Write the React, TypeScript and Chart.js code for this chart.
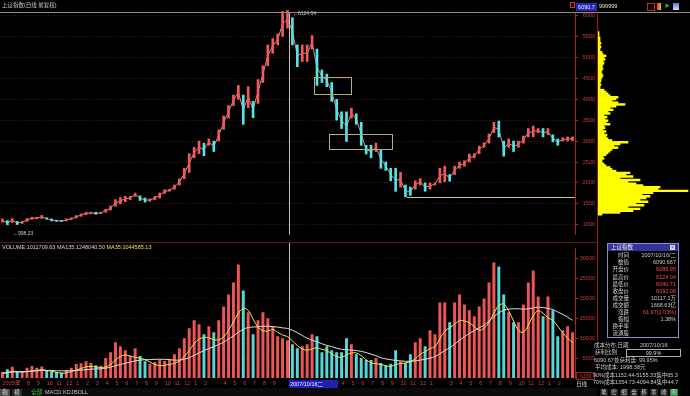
import React, { useEffect, useRef } from "react";
import { Chart, registerables } from "chart.js";
Chart.register(...registerables);

// Month labels, one per month starting June 2005 (first entry placed at the very start)
const monthLabels = ["2005年","7","8","9","10","11","12","1","2","3","4","5","6","7","8","9","10","11","12","1","2","","4","5","6","7","8","9","","","","","","","4","5","6","7","8","9","10","11","12","1","","3","4","5","6","7","8","9","10","11","12","1","2",""];

// Axis tick values
const priceTicks = [1000,1500,2000,2500,3000,3500,4000,4500,5000,5500,6000];
const volumeTicks = [5000,10000,15000,20000,25000,30000];

// Half-month price ranges (Shanghai Composite), mid-May 2005 .. March 2010
const priceLow = [1060,998,1055,1005,1030,1080,1130,1140,1150,1130,1090,1080,1075,1090,1120,
 1160,1200,1240,1260,1250,1265,1300,1350,1440,1500,1550,1600,1680,1580,1540,1560,1600,1640,1750,1800,1850,1950,2100,2250,
 2600,2700,2650,2900,2750,3000,3280,3550,3850,4000,3400,3800,3560,3900,4400,4800,5100,5300,5500,5700,5300,4780,4900,4900,
 5200,4330,4400,4300,3950,3500,3300,2990,3550,3400,2900,2690,2600,2750,2350,2300,2050,1800,1900,1664,1700,1850,1950,1800,
 1850,1950,2000,2030,2040,2200,2350,2400,2500,2600,2700,2850,2950,3200,3100,2640,2850,2750,2850,2950,3100,3100,3200,3100,
 3150,2980,2900,3000,3000,3010];
const priceHigh = [1140,1100,1145,1080,1085,1150,1180,1180,1223,1165,1140,1110,1100,1140,1165,
 1220,1260,1300,1300,1300,1300,1370,1450,1600,1650,1680,1680,1757,1690,1640,1620,1680,1760,1840,1850,1950,2100,2350,2700,
 2850,3000,2950,3050,3000,3270,3600,3850,4100,4330,4100,4300,3950,4470,4800,5300,5450,5560,6100,6124,5950,5300,5300,5300,
 5522,5200,4700,4600,4400,4000,3700,3700,3786,3650,3450,2900,2900,2950,2800,2500,2350,2350,2250,1950,1900,2050,2100,2000,
 2000,2000,2350,2400,2200,2400,2500,2530,2690,2700,2880,2960,3170,3450,3478,3000,3050,3000,3000,3120,3300,3360,3300,3300,
 3300,3150,3050,3080,3100,3100];

// Volume (x100) and its moving averages
const volume = [1500,2200,2800,1600,1700,2600,3000,2600,2900,1900,1700,1500,1400,2000,2600,
 3500,3700,4200,3800,3200,3100,5000,6500,9000,8000,7000,5500,7500,5500,4200,3600,4000,4600,4300,4800,6000,7500,10000,12500,
 14500,13500,11000,13000,11500,14500,18000,21000,24000,28500,22000,16500,11000,14500,16500,15000,13000,10500,10000,9500,8500,7500,8000,8500,
 11000,10500,6500,8000,7000,6500,6500,10000,8500,6000,5000,4500,4500,5000,3800,3200,3600,7000,4200,3800,6000,9000,10000,8000,
 12000,11000,19000,19000,14000,19000,21000,18500,17000,15500,18000,20000,24000,29000,28000,21000,16500,14000,14000,18500,24000,27000,20500,15500,
 20500,17000,10500,12000,13000,11500];
const volMA35 = [1200,1400,1700,1600,1500,1600,1800,1900,2100,1900,1700,1400,1200,1300,1600,
 2000,2400,2800,2900,2800,2600,2800,3400,4500,5400,5800,5500,5200,5000,4600,4000,3400,3100,3200,3400,3700,4300,5400,6900,
 8600,9800,10200,10100,9600,9600,10300,12000,14100,16300,17500,17000,14800,12800,11900,11800,12200,11500,10800,10400,9300,8200,7300,7000,
 7300,7600,7200,6900,6000,5400,5200,5800,6300,6300,5600,4600,3800,3600,3400,3100,2900,3400,3600,3800,4100,4800,6000,6600,
 7400,7900,9800,11800,12600,13500,14400,14300,13900,12900,12000,12500,14000,16300,18200,18600,16900,14300,11900,11500,13300,15700,16900,16300,
 15100,14500,13000,11400,10000,8900];
const volMA135 = [1200,1300,1500,1500,1600,1600,1700,1800,1900,1900,1900,1800,1800,1800,1800,
 1900,2000,2100,2200,2300,2300,2500,2700,3100,3400,3700,4000,4300,4500,4600,4600,4700,4700,4700,4600,4500,4500,4700,5100,
 5700,6300,6900,7400,7900,8400,9000,9800,10600,11500,12200,12700,12800,12900,13000,13000,12900,12800,12600,12450,12000,11400,10700,10000,
 9500,9100,8600,8200,7900,7500,7200,7100,7000,6900,6700,6400,6000,5600,5100,4800,4600,4400,4300,4200,4200,4300,4500,4700,
 5000,5400,6100,6900,7600,8500,9500,10400,11200,11900,12600,13300,14300,15400,16400,17000,17300,17400,17400,17300,17400,17600,17800,17700,
 17500,17200,16600,16000,15300,14500];

// Chip (cost) distribution
const chipLevels = [1000,1050,1100,1150,1200,1250,1300,1350,1400,1450,
 1500,1550,1600,1650,1700,1750,1800,1850,1900,1950,
 2000,2050,2100,2150,2200,2250,2300,2350,2400,2450,
 2500,2550,2600,2650,2700,2750,2800,2850,2900,2950,
 3000,3050,3100,3150,3200,3250,3300,3350,3400,3450,
 3500,3550,3600,3650,3700,3750,3800,3850,3900,3950,
 4000,4050,4100,4150,4200,4250,4300,4350,4400,4450,
 4500,4550,4600,4650,4700,4750,4800,4850,4900,4950,
 5000,5050,5100,5150,5200,5250,5300,5350,5400,5450,
 5500,5550,5600,5650,5700,5750,5800,5850,5900,5950,
 6000,6050];
const chipWidths = [4,22,35,42,30,46,38,50,42,48,
 52,44,55,90,60,62,45,38,30,42,
 22,35,28,32,18,14,12,8,6,4,
 4,6,5,8,10,12,14,20,16,22,
 30,14,10,8,9,6,8,5,7,6,
 12,8,10,7,9,6,12,10,15,12,
 18,27,20,14,18,20,12,10,8,6,
 2,2,3,2,3,3,4,5,4,3,
 4,5,4,5,6,5,7,6,8,5,
 4,2,2,3,2,3,2,2,2,1,
 1,1];

// Annotations (index / price terms)
const boxFrom = [63.4, 66.4];
const boxTo = [70.9, 79.3];
const boxLow = [4118, 2822];
const boxHigh = [4535, 3169];
const cursorIndex = 58.3;
const lowLineIndex = 82.3;
const lowLineValue = 1664;

const RED = "#d23c3c";
const FONT = "'Liberation Sans', 'Noto Sans CJK SC', sans-serif";

const labels = priceLow.map((_, i) => {
  if (i === 0) return monthLabels[0];
  if (i % 2 === 1 && i > 1) return monthLabels[(i - 1) / 2] || "";
  return "";
});
const mids = priceLow.map((l, i) => (l + priceHigh[i]) / 2);
const ups = mids.map((m, i) => (i === 0 ? true : m >= mids[i - 1]));
const candleColors = ups.map((u) => (u ? "#f05a5a" : "#54e4e4"));
const volColors = ups.map((u) => (u ? "#ee5555" : "#56d6d6"));

const priceOverlay = {
  id: "priceOverlay",
  afterDatasetsDraw(chart: any) {
    const { ctx, chartArea, scales } = chart;
    const x = scales.x, y = scales.y;
    ctx.save();
    ctx.lineWidth = 1;
    ctx.strokeStyle = "#b4ac7c";
    boxFrom.forEach((f, i) => {
      const x1 = Math.round(x.getPixelForValue(f)) + 0.5;
      const x2 = Math.round(x.getPixelForValue(boxTo[i])) + 0.5;
      const y1 = Math.round(y.getPixelForValue(boxHigh[i])) + 0.5;
      const y2 = Math.round(y.getPixelForValue(boxLow[i])) + 0.5;
      ctx.strokeRect(x1, y1, x2 - x1, y2 - y1);
    });
    ctx.strokeStyle = "#cccc88";
    const ly = Math.round(y.getPixelForValue(lowLineValue)) + 0.5;
    ctx.beginPath();
    ctx.moveTo(x.getPixelForValue(lowLineIndex), ly);
    ctx.lineTo(chartArea.right, ly);
    ctx.stroke();
    ctx.strokeStyle = "#bdbdbd";
    const cx = Math.round(x.getPixelForValue(cursorIndex)) + 0.5;
    ctx.beginPath();
    ctx.moveTo(cx, chartArea.top);
    ctx.lineTo(cx, chartArea.bottom);
    ctx.stroke();
    ctx.restore();
  },
};

const volOverlay = {
  id: "volOverlay",
  afterDatasetsDraw(chart: any) {
    const { ctx, chartArea, scales } = chart;
    ctx.save();
    ctx.strokeStyle = "#bdbdbd";
    ctx.lineWidth = 1;
    const cx = Math.round(scales.x.getPixelForValue(cursorIndex)) + 0.5;
    ctx.beginPath();
    ctx.moveTo(cx, 0);
    ctx.lineTo(cx, chartArea.bottom);
    ctx.stroke();
    ctx.restore();
  },
};

const T = (left: number, top: number, text: string, color: string, extra: any = {}) => (
  <div style={{ position: "absolute", left, top, color, fontSize: 5.5, lineHeight: "7px", whiteSpace: "nowrap", ...extra }}>{text}</div>
);

const infoRows = [
  ["时间", "2007/10/16/二", "#c8c8c8"],
  ["数值", "6090.667", "#c8c8c8"],
  ["开盘价", "6089.95", "#ff4a4a"],
  ["最高价", "6124.04", "#ff4a4a"],
  ["最低价", "6040.71", "#ff4a4a"],
  ["收盘价", "6092.06", "#ff4a4a"],
  ["成交量", "10117.1万", "#c8c8c8"],
  ["成交额", "1668.63亿", "#c8c8c8"],
  ["涨跌", "61.97(1.03%)", "#ff4a4a"],
  ["振幅", "1.38%", "#c8c8c8"],
  ["换手率", "", "#c8c8c8"],
  ["流通股", "", "#c8c8c8"],
];

const bottomIcons = ["笔", "密", "细", "盘", "移", "筹", "峰", "图"];

export default function App() {
  const priceRef = useRef<HTMLCanvasElement>(null);
  const volRef = useRef<HTMLCanvasElement>(null);
  const chipRef = useRef<HTMLCanvasElement>(null);

  useEffect(() => {
    document.body.style.margin = "0";
    document.body.style.background = "#000";
    const tickFont = { size: 5.5, family: FONT };
    const priceChart = new Chart(priceRef.current as HTMLCanvasElement, {
      type: "bar",
      data: {
        labels,
        datasets: [
          {
            type: "line",
            data: mids,
            borderColor: "#d09090",
            borderWidth: 1,
            pointRadius: 0,
            order: 2,
          } as any,
          {
            type: "bar",
            data: priceLow.map((l, i) => [l, priceHigh[i]]) as any,
            backgroundColor: candleColors,
            barThickness: 2,
            borderSkipped: false,
            clip: false as any,
            order: 1,
          },
        ],
      },
      options: {
        animation: false,
        responsive: false,
        maintainAspectRatio: false,
        layout: { padding: { top: 12, right: 2, left: 0, bottom: 0 } },
        plugins: { legend: { display: false }, tooltip: { enabled: false } },
        scales: {
          x: { display: false, offset: true },
          y: {
            position: "right",
            min: 762,
            max: 6086,
            afterBuildTicks: (s: any) => { s.ticks = priceTicks.map((v) => ({ value: v })); },
            ticks: { color: RED, font: tickFont, crossAlign: "far", padding: 4, callback: (v: any) => String(v) },
            grid: { color: "#551212", tickColor: "#b02020", tickLength: 3 },
            border: { color: "#b02020", dash: [1, 2] },
            afterFit: (s: any) => { s.width = 20; },
          },
        },
      } as any,
      plugins: [priceOverlay],
    });

    const volChart = new Chart(volRef.current as HTMLCanvasElement, {
      type: "bar",
      data: {
        labels,
        datasets: [
          { type: "line", data: volMA135, borderColor: "#dedede", borderWidth: 1, pointRadius: 0, tension: 0.35, order: 0 } as any,
          { type: "line", data: volMA35, borderColor: "#e8e84c", borderWidth: 1, pointRadius: 0, tension: 0.35, order: 1 } as any,
          { type: "bar", data: volume, backgroundColor: volColors, barPercentage: 0.6, categoryPercentage: 1, order: 2 },
        ],
      },
      options: {
        animation: false,
        responsive: false,
        maintainAspectRatio: false,
        layout: { padding: { top: 1, right: 2, left: 0, bottom: 0 } },
        plugins: { legend: { display: false }, tooltip: { enabled: false } },
        scales: {
          x: {
            offset: true,
            grid: { display: false, drawTicks: false },
            border: { display: false },
            ticks: { autoSkip: false, maxRotation: 0, minRotation: 0, align: "start", padding: 2, color: RED, font: tickFont },
            afterFit: (s: any) => { s.height = 10; },
          },
          y: {
            position: "right",
            min: 0,
            max: 32600,
            afterBuildTicks: (s: any) => { s.ticks = volumeTicks.map((v) => ({ value: v })); },
            ticks: { color: RED, font: tickFont, crossAlign: "far", padding: 3, callback: (v: any) => String(v) },
            grid: { color: "#3a0c0c", tickColor: "#b02020", tickLength: 3 },
            border: { color: "#b02020", dash: [1, 2] },
            afterFit: (s: any) => { s.width = 20; },
          },
        },
      } as any,
      plugins: [volOverlay],
    });

    const chipChart = new Chart(chipRef.current as HTMLCanvasElement, {
      type: "bar",
      data: {
        datasets: [
          {
            data: chipLevels.map((p, i) => ({ x: chipWidths[i], y: p })) as any,
            backgroundColor: "#ffff00",
            barPercentage: 1,
            categoryPercentage: 1,
            borderSkipped: false,
          },
        ],
      },
      options: {
        indexAxis: "y",
        animation: false,
        responsive: false,
        maintainAspectRatio: false,
        layout: { padding: { top: 12, right: 0, left: 0, bottom: 0 } },
        plugins: { legend: { display: false }, tooltip: { enabled: false } },
        scales: {
          y: { type: "linear", min: 762, max: 6086, display: false },
          x: { type: "linear", min: 0, max: 92, display: false },
        },
      } as any,
    });

    return () => {
      priceChart.destroy();
      volChart.destroy();
      chipChart.destroy();
    };
  }, []);

  return (
    <div style={{ position: "fixed", left: 0, top: 0, width: 690, height: 396, background: "#000", overflow: "hidden", fontFamily: FONT }}>
      <canvas ref={priceRef} width={597} height={242} style={{ position: "absolute", left: 0, top: 0 }} />
      <canvas ref={chipRef} width={92} height={242} style={{ position: "absolute", left: 598, top: 0 }} />
      <canvas ref={volRef} width={597} height={146} style={{ position: "absolute", left: 0, top: 242 }} />

      {/* frame lines */}
      <div style={{ position: "absolute", left: 0, top: 12, width: 690, height: 1, background: "#8c8c8c" }} />
      <div style={{ position: "absolute", left: 0, top: 242, width: 597, height: 1, background: "#6a1616" }} />
      <div style={{ position: "absolute", left: 597, top: 12, width: 1, height: 328, background: "#a01c1c" }} />
      <div style={{ position: "absolute", left: 0, top: 388, width: 597, height: 8, background: "#0c0c0c" }} />

      {/* header */}
      {T(2, 2, "上证指数(日线 前复权)", "#c8c8c8")}
      <div style={{ position: "absolute", left: 570, top: 2, width: 3, height: 4, border: "1px solid #e03030" }} />
      <div style={{ position: "absolute", left: 576, top: 3, width: 21, height: 8, background: "#2626b4", color: "#eaeaff", fontSize: 5.5, lineHeight: "8px", textAlign: "center" }}>6090.7</div>
      {T(599, 2.5, "999999", "#e8e8b8")}
      <div style={{ position: "absolute", left: 647, top: 3, width: 6, height: 6, border: "1px solid #c83030" }} />
      <div style={{ position: "absolute", left: 657, top: 3, width: 4, height: 7, background: "linear-gradient(90deg,#e83030,#f0c020)" }} />
      {T(664, 2, "➤", "#20d040", { fontSize: 7 })}
      <div style={{ position: "absolute", left: 673, top: 3, width: 6, height: 7, background: "linear-gradient(180deg,#4080e0,#e0e0e0)" }} />

      {/* marker labels */}
      {T(293, 9.5, "←6124.04", "#c8c8c8", { fontSize: 5 })}
      {T(13, 229.5, "←998.23", "#c8c8c8", { fontSize: 5 })}

      {/* volume legend */}
      <div style={{ position: "absolute", left: 2, top: 243.5, fontSize: 5.5, lineHeight: "7px", whiteSpace: "nowrap", color: "#d4d4d4" }}>
        VOLUME:1011709.63 MA135:1248040.50 <span style={{ color: "#e0e050" }}>MA35:1044585.13</span>
      </div>
      <div style={{ position: "absolute", left: 576, top: 372, width: 17, height: 6, border: "1px solid #a02020", color: RED, fontSize: 5, lineHeight: "6px", textAlign: "center" }}>X100</div>

      {/* date axis extras */}
      <div style={{ position: "absolute", left: 289, top: 380, width: 48, height: 8, background: "#2020b4", color: "#f0f0ff", fontSize: 5.5, lineHeight: "8px", paddingLeft: 1 }}>2007/10/16二</div>
      {T(576, 380.5, "日线", "#d0d0d0")}

      {/* bottom tabs */}
      <div style={{ position: "absolute", left: 0, top: 389, width: 10, height: 7, background: "#4a4a4a", color: "#e0e0e0", fontSize: 5.5, lineHeight: "7px", textAlign: "center" }}>指标</div>
      <div style={{ position: "absolute", left: 12, top: 389, width: 10, height: 7, background: "#2e2e2e", color: "#e0e0e0", fontSize: 5.5, lineHeight: "7px", textAlign: "center" }}>模板</div>
      {T(31, 389, "全部", "#30e030")}
      {T(45, 389, "MACD", "#c8c8c8")}
      {T(63, 389, "KDJ", "#c8c8c8")}
      {T(74, 389, "BOLL", "#c8c8c8")}

      {/* info window */}
      <div style={{ position: "absolute", left: 607, top: 243, width: 70, height: 93, border: "1px solid #8c8cc8", background: "#000" }} />
      <div style={{ position: "absolute", left: 608, top: 244, width: 70, height: 7, background: "#34349c" }} />
      {T(611, 244, "上证指数", "#f0f0f0")}
      <div style={{ position: "absolute", left: 670, top: 245, width: 5, height: 5, background: "#d8d8e8", color: "#34349c", fontSize: 5, lineHeight: "5px", textAlign: "center" }}>×</div>
      {infoRows.map((r, i) => (
        <React.Fragment key={i}>
          <div style={{ position: "absolute", left: 606, top: 252.2 + 7.1 * i, width: 23, textAlign: "right", color: "#d0d0d0", fontSize: 5.5, lineHeight: "7px", whiteSpace: "nowrap" }}>{r[0]}</div>
          <div style={{ position: "absolute", left: 630, top: 252.2 + 7.1 * i, width: 46, textAlign: "right", color: r[2], fontSize: 5.5, lineHeight: "7px", whiteSpace: "nowrap" }}>{r[1]}</div>
        </React.Fragment>
      ))}

      {/* chip text */}
      {T(594, 341.5, "成本分布,日期", "#c8c8c8")}
      {T(640, 341.5, "2007/10/16", "#c8c8c8")}
      {T(595, 349, "获利比例", "#c8c8c8")}
      <div style={{ position: "absolute", left: 626, top: 349, width: 53, height: 6, border: "1px solid #b0b0b0", color: "#d0d0d0", fontSize: 5.5, lineHeight: "6px", textAlign: "center" }}>99.9%</div>
      {T(594, 356.5, "6090.67处获利盘: 99.95%", "#c8c8c8")}
      {T(595, 364, "平均成本: 1998.38元", "#c8c8c8")}
      {T(593, 371.5, "90%成本1152.44-5155.33集中65.3", "#c8c8c8")}
      {T(593, 378.5, "70%成本1354.73-4094.84集中44.7", "#c8c8c8")}
      {bottomIcons.map((c, i) => (
        <div key={c + i} style={{ position: "absolute", left: 600 + 10 * i, top: 388.5, width: 8, height: 7, background: i === 7 ? "#208a40" : "#1e1e1e", color: "#d8d8d8", fontSize: 5.5, lineHeight: "7px", textAlign: "center" }}>{c}</div>
      ))}
    </div>
  );
}
